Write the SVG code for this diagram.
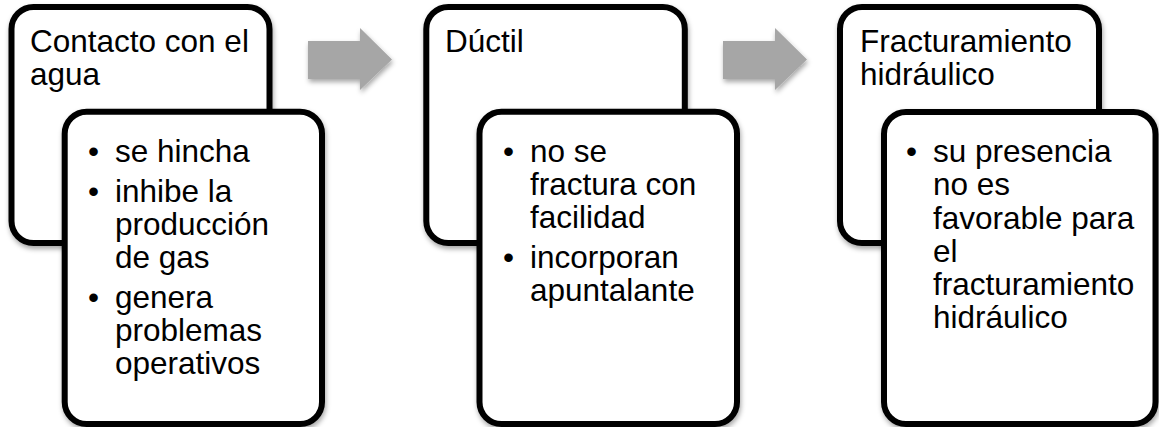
<svg xmlns="http://www.w3.org/2000/svg" width="1159" height="427" viewBox="0 0 1159 427">
<style>
.box{fill:#fff;stroke:#000;stroke-width:6}
.t{font-family:"Liberation Sans",Arial,sans-serif;font-size:31.5px;fill:#000}
.arr{fill:#a6a6a6}
</style>
<defs>
<filter id="sh" x="-10%" y="-10%" width="125%" height="125%">
<feDropShadow dx="1" dy="3" stdDeviation="2.5" flood-color="#000" flood-opacity="0.35"/>
</filter>
</defs>
<rect width="1159" height="427" fill="#fff"/>
<g id="connectors">
<path class="arr" filter="url(#sh)" d="M308,41 H360 V28 L392,59.5 L360,90 V79 H308 Z"/>
<path class="arr" filter="url(#sh)" d="M723,41 H775 V28 L807,59.5 L775,90 V79 H723 Z"/>
</g>
<g id="node1">
<rect class="box" filter="url(#sh)" x="11.5" y="7" width="258" height="236" rx="22"/>
<text class="t" x="30" y="52">Contacto con el</text>
<text class="t" x="30" y="85">agua</text>
</g>
<g id="node1-detail">
<rect class="box" filter="url(#sh)" x="64.7" y="111.7" width="257.3" height="312.3" rx="22"/>
<text class="t" x="88" y="162">•</text><text class="t" x="115" y="162">se hincha</text>
<text class="t" x="88" y="201.5">•</text><text class="t" x="115" y="201.5">inhibe la</text>
<text class="t" x="115" y="234.5">producción</text>
<text class="t" x="115" y="267.5">de gas</text>
<text class="t" x="88" y="307.5">•</text><text class="t" x="115" y="307.5">genera</text>
<text class="t" x="115" y="340.5">problemas</text>
<text class="t" x="115" y="373.5">operativos</text>
</g>
<g id="node2">
<rect class="box" filter="url(#sh)" x="426.3" y="7" width="258.5" height="236" rx="22"/>
<text class="t" x="445" y="52">Dúctil</text>
</g>
<g id="node2-detail">
<rect class="box" filter="url(#sh)" x="479.5" y="111.7" width="257.5" height="312.3" rx="22"/>
<text class="t" x="503" y="162">•</text><text class="t" x="530" y="162">no se</text>
<text class="t" x="530" y="195">fractura con</text>
<text class="t" x="530" y="228">facilidad</text>
<text class="t" x="503" y="268">•</text><text class="t" x="530" y="268">incorporan</text>
<text class="t" x="530" y="301">apuntalante</text>
</g>
<g id="node3">
<rect class="box" filter="url(#sh)" x="840" y="7" width="259" height="236" rx="22"/>
<text class="t" x="860" y="52">Fracturamiento</text>
<text class="t" x="860" y="85">hidráulico</text>
</g>
<g id="node3-detail">
<rect class="box" filter="url(#sh)" x="884" y="112" width="271.5" height="312" rx="22"/>
<text class="t" x="906" y="162">•</text><text class="t" x="933" y="162">su presencia</text>
<text class="t" x="933" y="195">no es</text>
<text class="t" x="933" y="228.5">favorable para</text>
<text class="t" x="933" y="261.5">el</text>
<text class="t" x="933" y="295">fracturamiento</text>
<text class="t" x="933" y="328">hidráulico</text>
</g>
</svg>
